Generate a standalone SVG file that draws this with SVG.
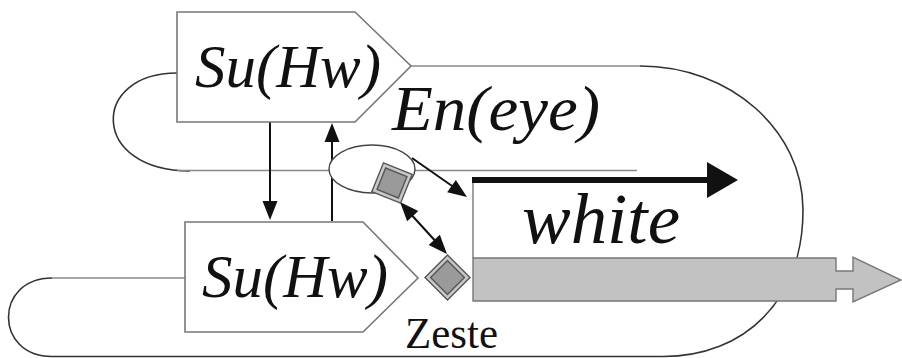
<svg xmlns="http://www.w3.org/2000/svg" width="902" height="358" viewBox="0 0 902 358">
  <style>
    .loop { fill: none; stroke: #333; stroke-width: 1.6; }
    .track { fill: none; stroke: #888; stroke-width: 1.6; }
    .box { fill: #fff; stroke: #777; stroke-width: 1.6; }
    .arrow { fill: none; stroke: #111; stroke-width: 2; }
    .tip { fill: #111; }
    .chip-out { fill: #c8c8c8; stroke: #555; stroke-width: 1.4; }
    .chip-in { fill: #9a9a9a; stroke: #555; stroke-width: 1.4; }
    text { fill: #111; }
    .it { font-family: 'Liberation Serif', 'DejaVu Serif', 'Times New Roman', serif; font-style: italic; }
    .rm { font-family: 'Liberation Serif', 'DejaVu Serif', 'Times New Roman', serif; }
  </style>
  <defs>
    <path id="tip" d="M0,0 L-19,-7.5 L-19,7.5 Z"/>
  </defs>

  <!-- insulator loops and chromatin tracks -->
  <g id="connectors">
    <!-- upper loop: top protein to the line through the ellipse -->
    <path class="loop" d="M177,73 C90,73 90,171 190,171"/>
    <line class="track" x1="177" y1="170.5" x2="637" y2="170.5"/>
    <!-- big loop: top protein around to bottom protein -->
    <line class="track" x1="411" y1="66" x2="640" y2="66"/>
    <path class="loop" d="M640,66 C730,66 803,130 803,210 C803,300 745,356.5 663,356.5 L52,356.5 C-6,356.5 -6,278 52,278"/>
    <line class="track" x1="52" y1="278" x2="185" y2="278"/>
    <!-- interactions between the two Su(Hw) proteins -->
    <line class="arrow" x1="270" y1="122" x2="270" y2="204"/>
    <use href="#tip" class="tip" transform="translate(270,220) rotate(90)"/>
    <line class="arrow" x1="332" y1="221" x2="332" y2="138"/>
    <use href="#tip" class="tip" transform="translate(332,123) rotate(-90)"/>
    <!-- enhancer to promoter -->
    <line class="arrow" x1="412" y1="158" x2="455" y2="188"/>
    <use href="#tip" class="tip" transform="translate(467,197) rotate(35.3)"/>
    <!-- Zeste to Zeste -->
    <line class="arrow" x1="408" y1="211" x2="439" y2="245"/>
    <use href="#tip" class="tip" transform="translate(447,254) rotate(47.9)"/>
    <use href="#tip" class="tip" transform="translate(400,202) rotate(227.9)"/>
  </g>

  <!-- enhancer ellipse -->
  <g id="enhancer">
    <ellipse cx="372" cy="169" rx="43" ry="24" fill="#fff" stroke="#444" stroke-width="1.4"/>
  </g>

  <g id="suhw-top">
    <path class="box" d="M177,12 L355,12 L411,66 L355,122 L177,122 Z"/>
    <text class="it" x="195" y="87" font-size="61" textLength="186" lengthAdjust="spacingAndGlyphs">Su(Hw)</text>
  </g>

  <g id="suhw-bottom">
    <path class="box" d="M185,222 L363,222 L418,278 L363,332 L185,332 Z"/>
    <text class="it" x="202" y="297" font-size="61" textLength="186" lengthAdjust="spacingAndGlyphs">Su(Hw)</text>
  </g>

  <g id="en-eye">
    <text class="it" x="392" y="130" font-size="63" textLength="208" lengthAdjust="spacingAndGlyphs">En(eye)</text>
  </g>

  <g id="zeste-top">
    <g transform="translate(392,183) rotate(22)">
      <rect class="chip-out" x="-15.5" y="-15.5" width="31" height="31"/>
      <rect class="chip-in" x="-11.5" y="-11.5" width="23" height="23"/>
    </g>
  </g>

  <g id="zeste-bottom">
    <g transform="translate(447.5,277.5) rotate(45)">
      <rect class="chip-out" x="-15.9" y="-15.9" width="31.8" height="31.8"/>
      <rect class="chip-in" x="-12" y="-12" width="24" height="24"/>
    </g>
    <text class="rm" x="405" y="348" font-size="44" textLength="93" lengthAdjust="spacingAndGlyphs">Zeste</text>
  </g>

  <g id="white-gene">
    <line x1="473" y1="177" x2="473" y2="258" stroke="#888" stroke-width="1.6"/>
    <line x1="472" y1="180" x2="708" y2="180" stroke="#111" stroke-width="6"/>
    <path d="M707,162 L738,180 L707,198 Z" fill="#111"/>
    <path d="M473,258 L836,258 L836,271 L853,271 L853,257 L901,280 L853,302 L853,289 L836,289 L836,301 L473,301 Z" fill="#c2c2c2" stroke="#777" stroke-width="1.4"/>
    <text class="it" x="522" y="243" font-size="71" textLength="158" lengthAdjust="spacingAndGlyphs">white</text>
  </g>
</svg>
